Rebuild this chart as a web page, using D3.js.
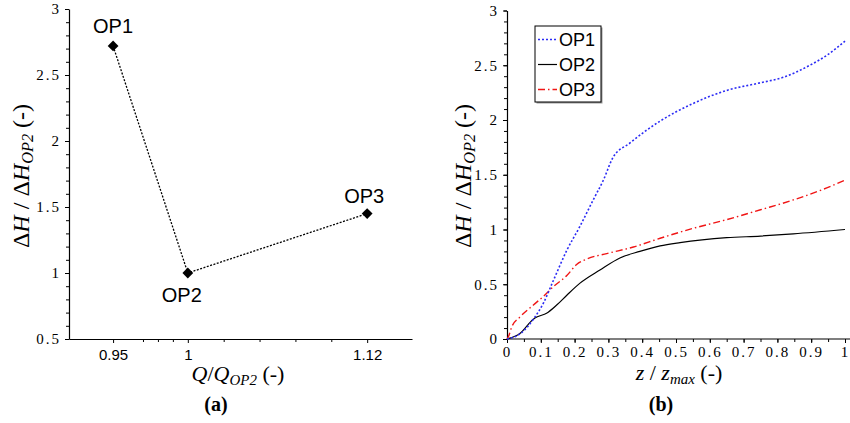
<!DOCTYPE html>
<html>
<head>
<meta charset="utf-8">
<script src="https://cdn.jsdelivr.net/npm/d3@7"></script>
<style>
	body { margin: 0; background: #fff; }
	svg { display: block; }
	.tick text { fill: #000; }
</style>
</head>
<body>
<svg width="850" height="423"></svg>
<script>
// ------- DATA ------- //

// (a) operating points
const opNames = ['OP1', 'OP2', 'OP3']
const opFlow = [0.95, 1, 1.12]
const opHead = [2.72, 1, 1.45]
const flowTicks = [0.95, 1, 1.12]
const flowMinorTicks = [0.97, 0.98, 0.99, 1.024, 1.048, 1.072, 1.096]

// (b) head along the channel
const zOP1 = [0, 0.04, 0.078, 0.108, 0.138, 0.177, 0.216, 0.255, 0.285, 0.314, 0.364, 0.41, 0.453, 0.55, 0.65, 0.75, 0.818, 0.896, 0.946, 1]
const hOP1 = [0, 0.05, 0.18, 0.33, 0.54, 0.81, 1.03, 1.27, 1.45, 1.66, 1.79, 1.9, 1.99, 2.15, 2.27, 2.34, 2.39, 2.5, 2.59, 2.72]
const zOP2 = [0, 0.038, 0.078, 0.088, 0.117, 0.147, 0.177, 0.216, 0.275, 0.334, 0.393, 0.453, 0.512, 0.65, 0.75, 0.847, 1]
const hOP2 = [0, 0.05, 0.18, 0.2, 0.235, 0.31, 0.4, 0.51, 0.63, 0.74, 0.8, 0.85, 0.88, 0.925, 0.94, 0.96, 1]
const zOP3 = [0, 0.004, 0.014, 0.038, 0.078, 0.108, 0.138, 0.177, 0.206, 0.236, 0.295, 0.374, 0.453, 0.55, 0.65, 0.75, 0.847, 0.946, 1]
const hOP3 = [0, 0.02, 0.11, 0.2, 0.31, 0.39, 0.48, 0.58, 0.68, 0.73, 0.78, 0.84, 0.92, 1.01, 1.09, 1.18, 1.27, 1.38, 1.45]

const seriesStyles = [
	{ name: 'OP1', color: '#2b2bf5', dash: '2,2', width: 1.6 },
	{ name: 'OP2', color: '#000', dash: null, width: 1.2 },
	{ name: 'OP3', color: '#f01515', dash: '7,3,1.5,3', width: 1.4 }
]

const serif = '"Liberation Serif", "DejaVu Serif", serif'
const sans = '"Liberation Sans", Arial, sans-serif'

const svg = d3.select('svg')

// ------- HELPERS ------- //

// writes "ΔH/ΔH_OP2 (-)" style math labels from [text, style] chunks
function mathLabel (g, parts, size) {
	const t = g.append('text')
		.attr('font-family', serif)
		.attr('font-size', size)
		.attr('text-anchor', 'middle')
	parts.forEach(([txt, kind]) => {
		const s = t.append('tspan').text(txt)
		if (kind === 'i') s.attr('font-style', 'italic')
		if (kind === 'sub') {
			s.attr('font-style', 'italic').attr('font-size', size * 0.68)
				.attr('baseline-shift', '-28%')
		}
	})
	return t
}

function styleAxis (g, fontFamily, fontSize, spacing) {
	g.select('.domain').attr('stroke', '#000').attr('stroke-width', 1.2)
	g.selectAll('.tick line').attr('stroke', '#000')
	g.selectAll('.tick text')
		.attr('font-family', fontFamily)
		.attr('font-size', fontSize)
		.attr('letter-spacing', spacing)
}

const fmtSpaced = (d) => d3.format('~g')(d)

// ------- (a) ------- //

const xa = d3.scaleLinear().domain([0.9205, 1.15]).range([69, 412])
const ya = d3.scaleLinear().domain([0.5, 3]).range([339, 9])

const ga = svg.append('g')

// minor ticks first so the axes sit on top
ga.append('g')
	.attr('transform', 'translate(0,339)')
	.call(d3.axisBottom(xa).tickValues(flowMinorTicks).tickSize(3).tickFormat(''))
	.call((g) => g.select('.domain').remove())
	.call((g) => g.selectAll('line').attr('stroke', '#000'))
ga.append('g')
	.attr('transform', 'translate(69,0)')
	.call(d3.axisLeft(ya).ticks(25).tickSize(3).tickFormat(''))
	.call((g) => g.select('.domain').remove())
	.call((g) => g.selectAll('line').attr('stroke', '#000'))

ga.append('g')
	.attr('transform', 'translate(0,339)')
	.call(d3.axisBottom(xa).tickValues(flowTicks).tickSize(4).tickPadding(6).tickFormat(d3.format('~g')).tickSizeOuter(0))
	.call((g) => styleAxis(g, sans, 15, 0))
ga.append('g')
	.attr('transform', 'translate(69,0)')
	.call(d3.axisLeft(ya).ticks(5).tickSize(4).tickPadding(4).tickFormat(fmtSpaced).tickSizeOuter(0))
	.call((g) => styleAxis(g, serif, 15, 2))

const opPoints = opNames.map((n, i) => ({ name: n, q: opFlow[i], h: opHead[i] }))

ga.append('path')
	.datum(opPoints)
	.attr('fill', 'none')
	.attr('stroke', '#000')
	.attr('stroke-width', 1.3)
	.attr('stroke-dasharray', '2,1.5')
	.attr('d', d3.line().x((d) => xa(d.q)).y((d) => ya(d.h)))

ga.selectAll('.marker')
	.data(opPoints)
	.enter().append('path')
	.attr('class', 'marker')
	.attr('transform', (d) => `translate(${xa(d.q)},${ya(d.h)}) rotate(45)`)
	.attr('d', d3.symbol(d3.symbolSquare, 58))
	.attr('fill', '#000')

// label offsets (dx, dy) by point
const labelOffsets = [[0, -13], [-6, 29], [-3, -11]]
ga.selectAll('.oplabel')
	.data(opPoints)
	.enter().append('text')
	.attr('class', 'oplabel')
	.attr('x', (d, i) => xa(d.q) + labelOffsets[i][0])
	.attr('y', (d, i) => ya(d.h) + labelOffsets[i][1])
	.attr('text-anchor', 'middle')
	.attr('font-family', sans)
	.attr('font-size', 20)
	.text((d) => d.name)

mathLabel(ga.append('g').attr('transform', 'translate(238,381)'),
	[['Q', 'i'], ['/', ''], ['Q', 'i'], ['OP2', 'sub'], [' (-)', '']], 22)

mathLabel(ga.append('g').attr('transform', 'translate(29,176) rotate(-90)'),
	[['Δ', ''], ['H', 'i'], [' / ', ''], ['Δ', ''], ['H', 'i'], ['OP2', 'sub'], [' (-)', '']], 24)

ga.append('text')
	.attr('x', 216).attr('y', 411)
	.attr('text-anchor', 'middle')
	.attr('font-family', serif)
	.attr('font-weight', 'bold')
	.attr('font-size', 20)
	.text('(a)')

// ------- (b) ------- //

const xb = d3.scaleLinear().domain([0, 1]).range([507, 845])
const yb = d3.scaleLinear().domain([0, 3]).range([339, 10.5])

const gb = svg.append('g')

gb.append('g')
	.attr('transform', 'translate(0,339)')
	.call(d3.axisBottom(xb).ticks(20).tickSize(3).tickFormat(''))
	.call((g) => g.select('.domain').remove())
	.call((g) => g.selectAll('line').attr('stroke', '#000'))
gb.append('g')
	.attr('transform', 'translate(507,0)')
	.call(d3.axisLeft(yb).ticks(30).tickSize(3).tickFormat(''))
	.call((g) => g.select('.domain').remove())
	.call((g) => g.selectAll('line').attr('stroke', '#000'))

gb.append('g')
	.attr('transform', 'translate(0,339)')
	.call(d3.axisBottom(xb).ticks(10).tickSize(4).tickPadding(3).tickFormat(fmtSpaced).tickSizeOuter(0))
	.call((g) => styleAxis(g, serif, 15, 2))
	.call((g) => g.select('.domain').attr('d', 'M507,0H850'))
gb.append('g')
	.attr('transform', 'translate(507,0)')
	.call(d3.axisLeft(yb).ticks(6).tickSize(4).tickPadding(4).tickFormat(fmtSpaced).tickSizeOuter(0))
	.call((g) => styleAxis(g, serif, 15, 2))

const curves = [[zOP1, hOP1], [zOP2, hOP2], [zOP3, hOP3]]
const lineB = d3.line()
	.x((d) => xb(d[0]))
	.y((d) => yb(d[1]))
	.curve(d3.curveMonotoneX)

// draw OP2 first, then OP3, OP1 on top
;[1, 2, 0].forEach((i) => {
	const [zs, hs] = curves[i]
	const st = seriesStyles[i]
	gb.append('path')
		.datum(zs.map((z, k) => [z, hs[k]]))
		.attr('fill', 'none')
		.attr('stroke', st.color)
		.attr('stroke-width', st.width)
		.attr('stroke-dasharray', st.dash)
		.attr('d', lineB)
})

// legend
const legend = gb.append('g').attr('transform', 'translate(535,26)')
legend.append('rect')
	.attr('x', 1.5).attr('y', 1.5)
	.attr('width', 66).attr('height', 76)
	.attr('fill', '#999')
legend.append('rect')
	.attr('width', 66).attr('height', 76)
	.attr('fill', '#fff')
	.attr('stroke', '#000')
	.attr('stroke-width', 1)
seriesStyles.forEach((st, i) => {
	const y = 13.5 + i * 25
	legend.append('line')
		.attr('x1', 3).attr('x2', 22)
		.attr('y1', y).attr('y2', y)
		.attr('stroke', st.color)
		.attr('stroke-width', st.width)
		.attr('stroke-dasharray', st.dash)
	legend.append('text')
		.attr('x', 24).attr('y', y + 6.5)
		.attr('font-family', sans)
		.attr('font-size', 18)
		.text(st.name)
})

mathLabel(gb.append('g').attr('transform', 'translate(679,380)'),
	[['z', 'i'], [' / ', ''], ['z', 'i'], ['max', 'sub'], [' (-)', '']], 22)

mathLabel(gb.append('g').attr('transform', 'translate(471,176) rotate(-90)'),
	[['Δ', ''], ['H', 'i'], [' / ', ''], ['Δ', ''], ['H', 'i'], ['OP2', 'sub'], [' (-)', '']], 24)

gb.append('text')
	.attr('x', 661).attr('y', 411)
	.attr('text-anchor', 'middle')
	.attr('font-family', serif)
	.attr('font-weight', 'bold')
	.attr('font-size', 20)
	.text('(b)')
</script>
</body>
</html>
